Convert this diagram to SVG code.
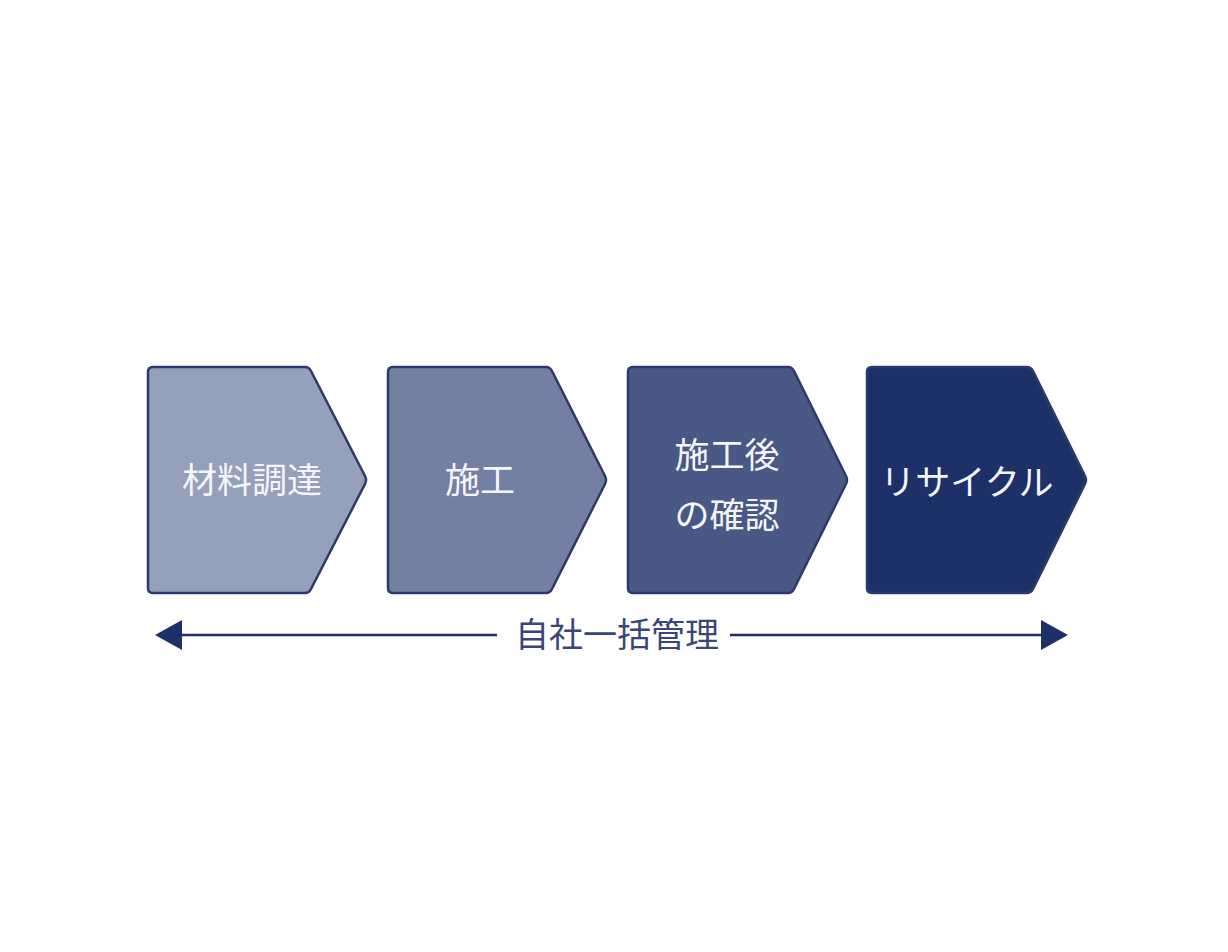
<svg xmlns="http://www.w3.org/2000/svg" width="1228" height="952" viewBox="0 0 1228 952">
<defs>
<style>
.step{stroke:#2b3a6c;stroke-width:2.5;stroke-linejoin:round}
.lbl{font-family:"Noto Sans CJK JP","Noto Sans",sans-serif;font-size:35px;fill:#f4f5f8;text-anchor:middle;dominant-baseline:central}
.cap{font-family:"Noto Sans CJK JP","Noto Sans",sans-serif;font-size:34px;fill:#3a4677;text-anchor:middle;dominant-baseline:central}
.line{stroke:#1e3068;stroke-width:2.5}
.head{fill:#1e3068}
</style>
</defs>
<rect width="1228" height="952" fill="#ffffff"/>
<g id="n1">
<path class="step" fill="#95a0ba" d="M153,367 H305 Q309,367 311,371 L365,476 Q367,480 365,484 L311,589 Q309,593 305,593 H153 Q148,593 148,588 V372 Q148,367 153,367 Z"/>
<text class="lbl" x="252" y="477">材料調達</text>
</g>
<g id="n2">
<path class="step" fill="#7480a3" d="M393,367 H546 Q550,367 552,371 L605,476 Q607,480 605,484 L552,589 Q550,593 546,593 H393 Q388,593 388,588 V372 Q388,367 393,367 Z"/>
<text class="lbl" x="480" y="477">施工</text>
</g>
<g id="n3">
<path class="step" fill="#4a5885" stroke="#4a5885" d="M633,367 H788 Q792,367 794,371 L846,476 Q848,480 846,484 L794,589 Q792,593 788,593 H633 Q628,593 628,588 V372 Q628,367 633,367 Z"/>
<text class="lbl" x="727" y="452">施工後</text>
<text class="lbl" x="727" y="512">の確認</text>
</g>
<g id="n4">
<path class="step" fill="#1e3068" stroke="#1e3068" d="M872,367 H1027 Q1031,367 1033,371 L1085,476 Q1087,480 1085,484 L1033,589 Q1031,593 1027,593 H872 Q867,593 867,588 V372 Q867,367 872,367 Z"/>
<text class="lbl" x="967" y="479">リサイクル</text>
</g>
<g id="connectors">
<line class="line" x1="497" y1="635" x2="160" y2="635"/>
<path class="head" d="M155,635 L182,620 L182,650 Z"/>
<line class="line" x1="730" y1="635" x2="1063" y2="635"/>
<path class="head" d="M1068,635 L1041,620 L1041,650 Z"/>
<text class="cap" x="617" y="632">自社一括管理</text>
</g>
</svg>
